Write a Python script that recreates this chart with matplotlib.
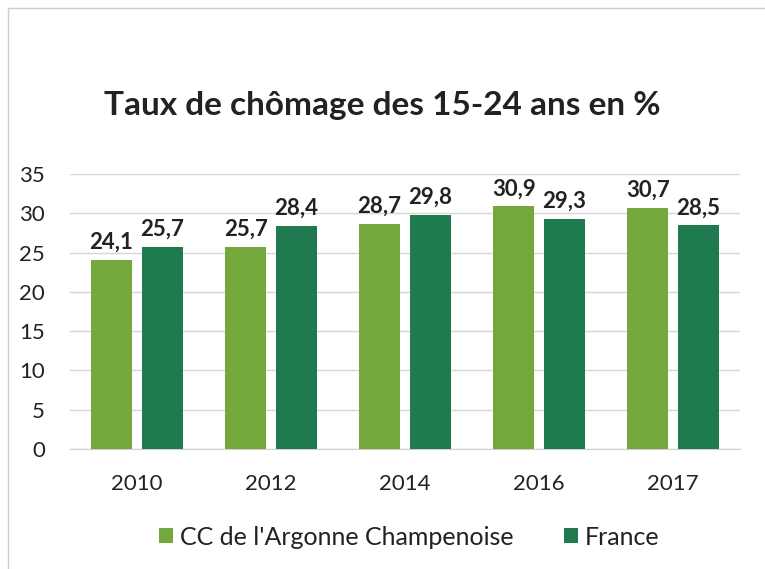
import numpy as np
import matplotlib

matplotlib.use('Agg')
import matplotlib.pyplot as plt
from matplotlib.patches import Rectangle

# données
annees = ['2010', '2012', '2014', '2016', '2017']
cc_argonne = [24.1, 25.7, 28.7, 30.9, 30.7]
france = [25.7, 28.4, 29.8, 29.3, 28.5]
series_noms = ["CC de l'Argonne Champenoise", 'France']

couleur_cc = '#74a83c'
couleur_fr = '#1f7a4f'

plt.rcParams['font.family'] = ['Lato', 'DejaVu Sans']

fig = plt.figure(figsize=(7.65, 5.69), dpi=100)
ax = fig.add_axes([0.0915, 0.211, 0.876, 0.483])

x = np.arange(len(annees))
largeur = 0.305
decal = 0.19

b1 = ax.bar(x - decal, cc_argonne, largeur, color=couleur_cc, label=series_noms[0], zorder=3)
b2 = ax.bar(x + decal, france, largeur, color=couleur_fr, label=series_noms[1], zorder=3)

# étiquettes de valeurs (virgule décimale)
for barres, valeurs in [(b1, cc_argonne), (b2, france)]:
    for rect, v in zip(barres, valeurs):
        ax.annotate(f'{v:.1f}'.replace('.', ','),
                    (rect.get_x() + rect.get_width() / 2, v),
                    xytext=(0, 5), textcoords='offset points',
                    ha='center', va='bottom', fontsize=16, fontweight='bold',
                    color='#222222')

ax.set_xlim(-0.5, len(annees) - 0.5)
ax.set_ylim(0, 35)
ax.set_yticks(range(0, 36, 5))
ax.set_xticks(x)
ax.set_xticklabels(annees)
ax.yaxis.grid(True, color='#d6d6d6', linewidth=1, zorder=0)
ax.tick_params(axis='y', length=0, pad=18, labelsize=16, labelcolor='#222222')
ax.tick_params(axis='x', length=0, pad=18, labelsize=16, labelcolor='#222222')
for s in ['top', 'right', 'left']:
    ax.spines[s].set_visible(False)
ax.spines['bottom'].set_color('#d0d0d0')

fig.text(0.5, 0.815, 'Taux de chômage des 15-24 ans en %', ha='center', va='center',
         fontsize=24, fontweight='bold', color='#222222')

fig.legend(loc='center', bbox_to_anchor=(0.535, 0.056), ncol=2, frameon=False,
           fontsize=18, handlelength=0.55, handleheight=0.55, handletextpad=0.3,
           columnspacing=2.0, labelcolor='#222222')

# cadre clair du graphique
fig.patches.append(Rectangle((0.011, -0.01), 1.0, 0.996, transform=fig.transFigure,
                             fill=False, edgecolor='#cfcfcf', linewidth=1))

fig.savefig('out.png', dpi=100)
